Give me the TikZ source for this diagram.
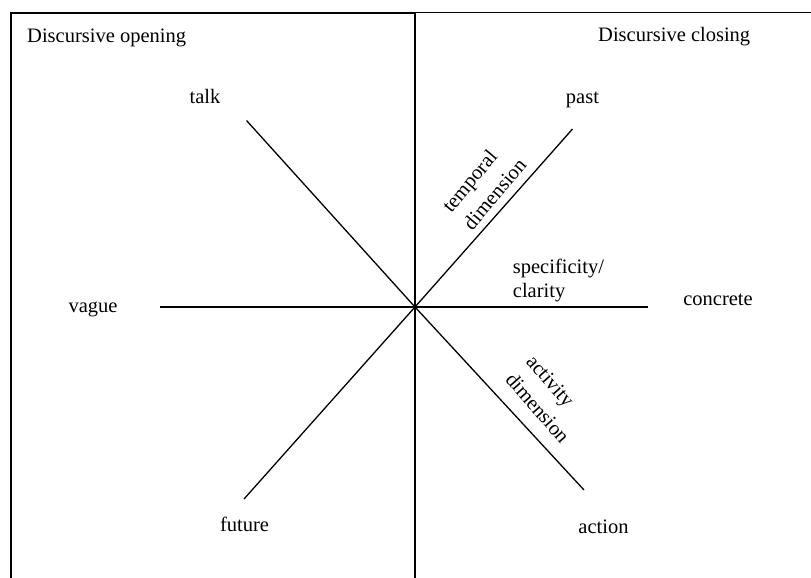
\documentclass[tikz,border=0pt]{standalone}
\usepackage{fontspec}
\setmainfont{Liberation Serif}
\begin{document}
\begin{tikzpicture}[x=1pt,y=-1pt,
  frame/.style={line width=1.5pt, line cap=rect},
  axis/.style={line width=1.3pt},
  every node/.style={inner sep=0pt, font=\fontsize{20.5}{24}\selectfont},
  lbl/.style={anchor=base},
  rot/.style={align=left, anchor=center, font=\fontsize{20.5}{27.5}\selectfont}]
\useasboundingbox (0,0) rectangle (811,578);
% frame
\coordinate (TL) at (11,13);
\coordinate (BL) at (11,578);
\coordinate (TM) at (415,12.5);
\coordinate (BM) at (415,578);
\coordinate (TR) at (811,12.5);
\draw[frame] (BL) -- (TL) -- (415,13);
\draw[frame] (TM) -- (TR);
\draw[frame] (TM) -- (BM);
% headings
\node[anchor=base west] (open) at (27,43) {Discursive opening};
\node[anchor=base west] (close) at (598,42) {Discursive closing};
% star
\coordinate (O) at (415,307);
\coordinate (eTalk) at (246.5,120.5);
\coordinate (ePast) at (572.5,129);
\coordinate (eFuture) at (244,499);
\coordinate (eAction) at (584,490);
\coordinate (eVague) at (160,307);
\coordinate (eConcrete) at (648,307);
\draw[axis] (eTalk) -- (O);
\draw[axis] (ePast) -- (O);
\draw[axis] (eFuture) -- (O);
\draw[axis] (eAction) -- (O);
\draw[axis] (eVague) -- (eConcrete);
% end labels
\node[lbl] (talk) at (205,103) {talk};
\node[lbl] (past) at (582.5,103) {past};
\node[lbl] (vague) at (93,312) {vague};
\node[lbl] (concrete) at (718,305) {concrete};
\node[lbl] (future) at (244.5,531) {future};
\node[lbl] (action) at (603.5,533) {action};
% dimension labels
\node[anchor=base west, align=left] (spec) at (512.7,297) {specificity/\\clarity};
\node[rot, rotate=50] (temp) at (484,185) {temporal\\dimension};
\node[rot, rotate=-49] (act) at (548,399) {activity\\dimension};
\end{tikzpicture}
\end{document}
